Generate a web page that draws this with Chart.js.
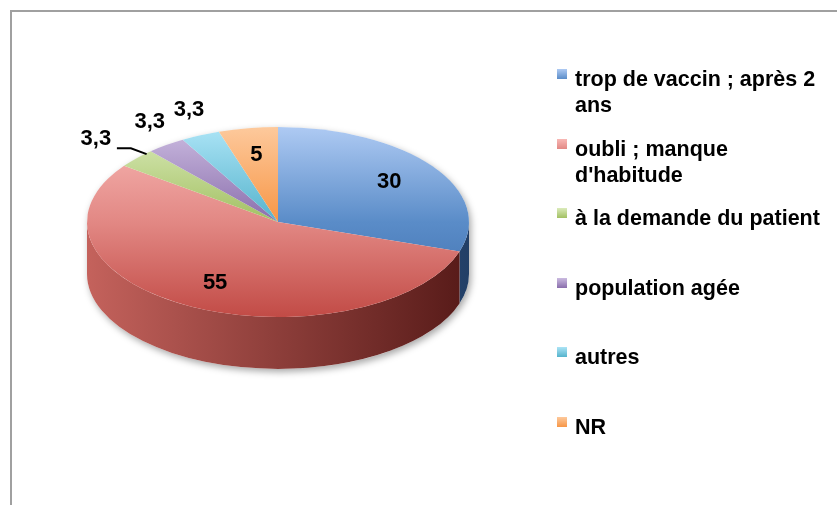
<!DOCTYPE html>
<html>
<head>
<meta charset="utf-8">
<script src="https://cdn.jsdelivr.net/npm/chart.js@4.4.1/dist/chart.umd.min.js"></script>
<style>
  body { margin: 0; background: #fff; }
  #wrap { position: relative; width: 837px; height: 505px; overflow: hidden; font-family: "Liberation Sans", Arial, sans-serif; }
  #frame { position: absolute; left: 10px; top: 10px; width: 900px; height: 600px; border-top: 2px solid #a0a0a0; border-left: 2px solid #a0a0a0; }
  #chart { position: absolute; left: 0; top: 0; }
  #legend { position: absolute; left: 557px; top: 66px; width: 270px; }
  .item { position: relative; height: 69.6px; padding-left: 18px; font-weight: bold; font-size: 21.5px; line-height: 26px; color: #000; }
  .box { position: absolute; left: 0; top: 3px; width: 10px; height: 10px; }
</style>
</head>
<body>
<div id="wrap">
  <div id="frame"></div>
  <canvas id="chart" width="837" height="505"></canvas>
  <div id="legend"></div>
</div>
<script>
// data
const labels = ['trop de vaccin ; après 2 ans', "oubli ; manque d'habitude", 'à la demande du patient', 'population agée', 'autres', 'NR'];
const values = [30, 55, 3.3, 3.3, 3.3, 5];

// colours: top face gradient (light -> mid -> dark) and side wall
const topColors = ['#aecaf3', '#f8b8b5', '#dbebbb', '#cbbbe0', '#ace4f6', '#fdc99c'];
const midColors = ['#5a8cc8', '#e28884', '#a2c062', '#8a6eac', '#55b3cc', '#f79646'];
const baseColors = ['#3a6aa8', '#c24b46', '#86a648', '#6b4f8f', '#3296b2', '#e57d25'];
const sideLight = ['#4a7fc0', '#c4625c', '#8aa94a', '#735896', '#389ab5', '#e07f2c'];
const sideDark = ['#223f66', '#561a18', '#4d6226', '#3f2f57', '#1f5867', '#7c4516'];

const tilt = 0.497;       // ry / rx
const depthRatio = 0.272; // wall height / rx

function fmt(v) {
  return String(v).replace('.', ',');
}

// legend
const legendEl = document.getElementById('legend');
labels.forEach((lab, i) => {
  const item = document.createElement('div');
  item.className = 'item';
  const box = document.createElement('span');
  box.className = 'box';
  box.style.background = 'linear-gradient(' + topColors[i] + ',' + midColors[i] + ')';
  item.appendChild(box);
  item.appendChild(document.createTextNode(lab));
  legendEl.appendChild(item);
});

const pie3d = {
  id: 'pie3d',
  beforeDatasetsDraw(chart) {
    const ctx = chart.ctx;
    const arcs = chart.getDatasetMeta(0).data;
    const cx = arcs[0].x, cy = arcs[0].y, r = arcs[0].outerRadius;
    const ry = r * tilt, depth = r * depthRatio;

    // soft shadow under the cylinder
    ctx.save();
    ctx.shadowColor = 'rgba(0,0,0,0.35)';
    ctx.shadowBlur = 7;
    ctx.shadowOffsetX = 2;
    ctx.shadowOffsetY = 3;
    ctx.beginPath();
    ctx.ellipse(cx, cy, r, ry, 0, Math.PI, 2 * Math.PI);
    ctx.ellipse(cx, cy + depth, r, ry, 0, 0, Math.PI);
    ctx.closePath();
    ctx.fillStyle = '#fff';
    ctx.fill();
    ctx.restore();

    // side walls (front half only)
    arcs.forEach((arc, i) => {
      let a1 = arc.startAngle % (2 * Math.PI);
      if (a1 < 0) a1 += 2 * Math.PI;
      const a2 = a1 + (arc.endAngle - arc.startAngle);
      [[0, Math.PI], [2 * Math.PI, 3 * Math.PI]].forEach(([lo, hi]) => {
        const b1 = Math.max(a1, lo), b2 = Math.min(a2, hi);
        if (b2 <= b1) return;
        const g = ctx.createLinearGradient(cx - r, 0, cx + r, 0);
        g.addColorStop(0, sideLight[i]);
        g.addColorStop(1, sideDark[i]);
        ctx.beginPath();
        ctx.ellipse(cx, cy, r, ry, 0, b1, b2);
        ctx.ellipse(cx, cy + depth, r, ry, 0, b2, b1, true);
        ctx.closePath();
        ctx.fillStyle = g;
        ctx.fill();
      });
    });

    // squash the top face
    ctx.save();
    ctx.translate(cx, cy);
    ctx.scale(1, tilt);
    ctx.translate(-cx, -cy);
  },
  afterDatasetsDraw(chart) {
    const ctx = chart.ctx;
    ctx.restore();
    const arcs = chart.getDatasetMeta(0).data;
    const total = values.reduce((a, b) => a + b, 0);
    ctx.save();
    ctx.font = 'bold 22px "Liberation Sans", Arial, sans-serif';
    ctx.fillStyle = '#000';
    ctx.strokeStyle = '#000';
    ctx.lineWidth = 2;
    ctx.textAlign = 'center';
    ctx.textBaseline = 'middle';
    arcs.forEach((arc, i) => {
      const cx = arc.x, cy = arc.y, r = arc.outerRadius;
      const mid = (arc.startAngle + arc.endAngle) / 2;
      const c = Math.cos(mid), s = Math.sin(mid);
      if (values[i] / total > 0.04) {
        ctx.fillText(fmt(values[i]), cx + r * 0.72 * c, cy + r * tilt * 0.72 * s);
        return;
      }
      // outside label, just past the rim
      const ex = cx + r * c, ey = cy + r * tilt * s;
      let x = ex + 28 * c, y = ey + 28 * s;
      const pushed = c < -0.7;
      if (pushed) x -= 20;
      ctx.fillText(fmt(values[i]), x, y);
      if (pushed) {
        ctx.beginPath();
        ctx.moveTo(x + 21, y + 9);
        ctx.lineTo(x + 35, y + 9);
        ctx.lineTo(ex + 10, ey - 4);
        ctx.stroke();
      }
    });
    ctx.restore();
  }
};

new Chart(document.getElementById('chart').getContext('2d'), {
  type: 'pie',
  data: {
    labels: labels,
    datasets: [{
      data: values,
      clip: false,
      borderWidth: 0,
      hoverOffset: 0,
      backgroundColor: (c) => {
        const ca = c.chart.chartArea;
        const i = c.dataIndex;
        if (!ca || i === undefined) return midColors[i || 0];
        const g = c.chart.ctx.createLinearGradient(0, ca.top, 0, ca.bottom);
        g.addColorStop(0, topColors[i]);
        g.addColorStop(0.5, midColors[i]);
        g.addColorStop(1, baseColors[i]);
        return g;
      }
    }]
  },
  options: {
    responsive: false,
    animation: false,
    events: [],
    layout: { padding: { left: 87, right: 368, top: 31, bottom: 92 } },
    plugins: {
      legend: { display: false },
      tooltip: { enabled: false }
    }
  },
  plugins: [pie3d]
});
</script>
</body>
</html>
